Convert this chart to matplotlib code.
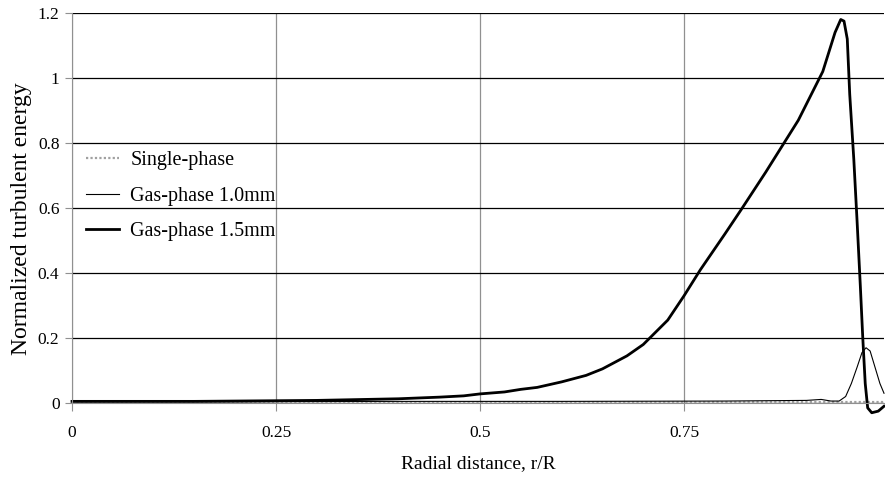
import matplotlib.pyplot as plt

plt.rcParams['font.family'] = ['Liberation Serif', 'DejaVu Serif']

# gas-phase 1.5mm (thick line)
x15 = [0.0, 0.05, 0.10, 0.15, 0.20, 0.25, 0.30, 0.34, 0.40, 0.45, 0.48, 0.50, 0.53,
       0.55, 0.57, 0.60, 0.63, 0.65, 0.68, 0.70, 0.73, 0.75, 0.77, 0.80, 0.82,
       0.85, 0.87, 0.89, 0.92, 0.935, 0.942, 0.946, 0.950, 0.953, 0.958, 0.962,
       0.966, 0.969, 0.972, 0.975, 0.980, 0.988, 0.995]
y15 = [0.005, 0.005, 0.005, 0.005, 0.006, 0.007, 0.008, 0.01, 0.013, 0.018, 0.022, 0.028, 0.034,
       0.042, 0.048, 0.065, 0.085, 0.105, 0.145, 0.18, 0.255, 0.33, 0.41, 0.52, 0.595,
       0.71, 0.79, 0.87, 1.02, 1.14, 1.18, 1.175, 1.12, 0.95, 0.75, 0.56,
       0.36, 0.20, 0.06, -0.015, -0.03, -0.025, -0.01]

# gas-phase 1.0mm (thin line)
x10 = [0.0, 0.20, 0.40, 0.60, 0.80, 0.90, 0.918, 0.93, 0.94, 0.948, 0.955, 0.962,
       0.968, 0.973, 0.978, 0.984, 0.990, 0.995]
y10 = [0.004, 0.004, 0.005, 0.005, 0.006, 0.008, 0.011, 0.006, 0.006, 0.02, 0.06, 0.11,
       0.155, 0.17, 0.16, 0.11, 0.06, 0.03]

# single-phase (dotted)
xs = [0.0, 0.25, 0.5, 0.75, 0.9, 0.995]
ys = [0.002, 0.002, 0.002, 0.002, 0.003, 0.003]

fig = plt.figure(figsize=(8.85, 4.79), dpi=100)
ax = fig.add_axes([72/885, 1-403/479, 812/885, 390/479])

ax.plot(xs, ys, color='#a0a0a0', lw=1.6, ls=(0, (1, 1)), label='Single-phase', clip_on=False)
ax.plot(x10, y10, color='black', lw=0.8, label='Gas-phase 1.0mm', clip_on=False)
ax.plot(x15, y15, color='black', lw=2.0, label='Gas-phase 1.5mm', clip_on=False)

ax.set_xlim(0, 0.995)
ax.set_ylim(0, 1.2)
ax.set_xticks([0, 0.25, 0.5, 0.75])
ax.set_xticklabels(['0', '0.25', '0.5', '0.75'])
ax.set_yticks([0, 0.2, 0.4, 0.6, 0.8, 1.0, 1.2])
ax.set_yticklabels(['0', '0.2', '0.4', '0.6', '0.8', '1', '1.2'])

ax.grid(axis='y', color='black', lw=0.9)
ax.grid(axis='x', color='#909090', lw=0.9)
ax.set_axisbelow(True)

for s in ['top', 'right']:
    ax.spines[s].set_visible(False)
ax.spines['left'].set_color('#909090')
ax.spines['bottom'].set_color('#909090')
ax.tick_params(axis='x', colors='#909090', length=6, pad=10, labelsize=12.5, labelcolor='black')
ax.tick_params(axis='y', colors='#909090', length=5, pad=4, labelsize=12.5, labelcolor='black')

ax.set_xlabel('Radial distance, r/R', fontsize=14, labelpad=10)
ax.set_ylabel('Normalized turbulent energy', fontsize=17)
ax.yaxis.set_label_coords(-0.049, 0.474)

ax.legend(loc='upper left', bbox_to_anchor=(-0.005, 0.693), frameon=False, fontsize=14.5,
          handlelength=1.65, handletextpad=0.55, labelspacing=0.82)

fig.savefig('out.png', dpi=100)
